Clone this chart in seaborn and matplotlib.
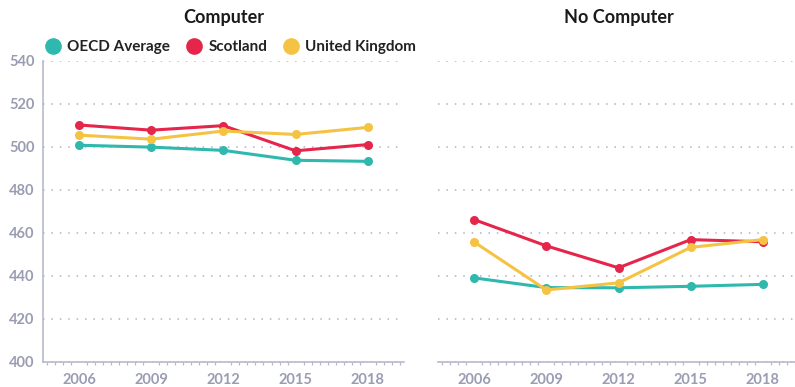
import matplotlib
matplotlib.use("Agg")
import matplotlib.pyplot as plt
import seaborn as sns
import pandas as pd
from matplotlib.ticker import MultipleLocator
from matplotlib.lines import Line2D

years = [2006, 2009, 2012, 2015, 2018]
regions = ["OECD Average", "Scotland", "United Kingdom"]
computer_oecd = [500.8, 499.9, 498.4, 493.8, 493.3]
computer_scotland = [510.2, 507.8, 509.9, 498.2, 501.1]
computer_uk = [505.5, 503.6, 507.4, 505.8, 509.1]
nocomp_oecd = [439.1, 434.6, 434.5, 435.2, 436.1]
nocomp_scotland = [466.2, 454.0, 443.8, 456.9, 455.9]
nocomp_uk = [455.8, 433.5, 436.8, 453.3, 456.9]
panel_titles = ["Computer", "No Computer"]
yticks = [400, 420, 440, 460, 480, 500, 520, 540]

colors = {"OECD Average": "#2fb8ad", "Scotland": "#e6254b", "United Kingdom": "#f5c343"}

def make_df(o, s, u):
    rows = []
    for name, vals in zip(regions, [o, s, u]):
        for y, v in zip(years, vals):
            rows.append({"Year": y, "Score": v, "Region": name})
    return pd.DataFrame(rows)

dfs = [make_df(computer_oecd, computer_scotland, computer_uk),
       make_df(nocomp_oecd, nocomp_scotland, nocomp_uk)]

sns.set_theme(style="white")
plt.rcParams["font.family"] = ["Lato", "DejaVu Sans"]

fig = plt.figure(figsize=(7.95, 3.87), dpi=100)
ax1 = fig.add_axes([0.054, 0.0646, 0.454, 0.778])
ax2 = fig.add_axes([0.551, 0.0646, 0.454, 0.778])

tick_col = "#9a9cb2"
spine_col = "#b8bacb"

for i, (ax, df) in enumerate(zip([ax1, ax2], dfs)):
    sns.lineplot(data=df, x="Year", y="Score", hue="Region", palette=colors,
                 marker="o", markersize=6.5, markeredgewidth=0, linewidth=2.2,
                 ax=ax, legend=False)
    ax.set_xlim(2004.5, 2019.5)
    ax.set_ylim(400, 540)
    ax.set_xticks(years)
    ax.xaxis.set_minor_locator(MultipleLocator(1/3))
    ax.set_yticks(yticks)
    ax.set_xlabel("")
    ax.set_ylabel("")
    ax.grid(axis="y", linestyle=(0, (1, 4.5)), color="#b0b2c2", linewidth=1.1)
    ax.set_axisbelow(True)
    for s in ["top", "right"]:
        ax.spines[s].set_visible(False)
    ax.spines["bottom"].set_color(spine_col)
    ax.spines["bottom"].set_linewidth(1.2)
    ax.tick_params(axis="x", which="major", length=5, width=1.1, color=spine_col,
                   labelcolor=tick_col, labelsize=10.5, pad=3)
    ax.tick_params(axis="x", which="minor", length=2.5, width=0.9, color=spine_col, bottom=True)
    for lab in ax.get_xticklabels():
        lab.set_fontweight("bold")
    ax.set_title(panel_titles[i], fontsize=13, fontweight="bold", color="#1a1a1a", pad=27)
    if i == 0:
        ax.spines["left"].set_color(spine_col)
        ax.spines["left"].set_linewidth(1.2)
        ax.tick_params(axis="y", length=0, labelcolor=tick_col, labelsize=10.5, pad=6)
        for lab in ax.get_yticklabels():
            lab.set_fontweight("bold")
    else:
        ax.spines["left"].set_visible(False)
        ax.tick_params(axis="y", left=False, labelleft=False)

handles = [Line2D([0], [0], marker="o", linestyle="none", markersize=12,
                  markerfacecolor=colors[r], markeredgewidth=0) for r in regions]
leg = fig.legend(handles, regions, loc="upper left", bbox_to_anchor=(0.047, 0.912),
                 ncol=3, frameon=False, handletextpad=0.35, columnspacing=0.95,
                 prop={"weight": "bold", "size": 11}, borderaxespad=0, handlelength=1.2)
for t in leg.get_texts():
    t.set_color("#222222")

fig.savefig("out.png", dpi=100)
